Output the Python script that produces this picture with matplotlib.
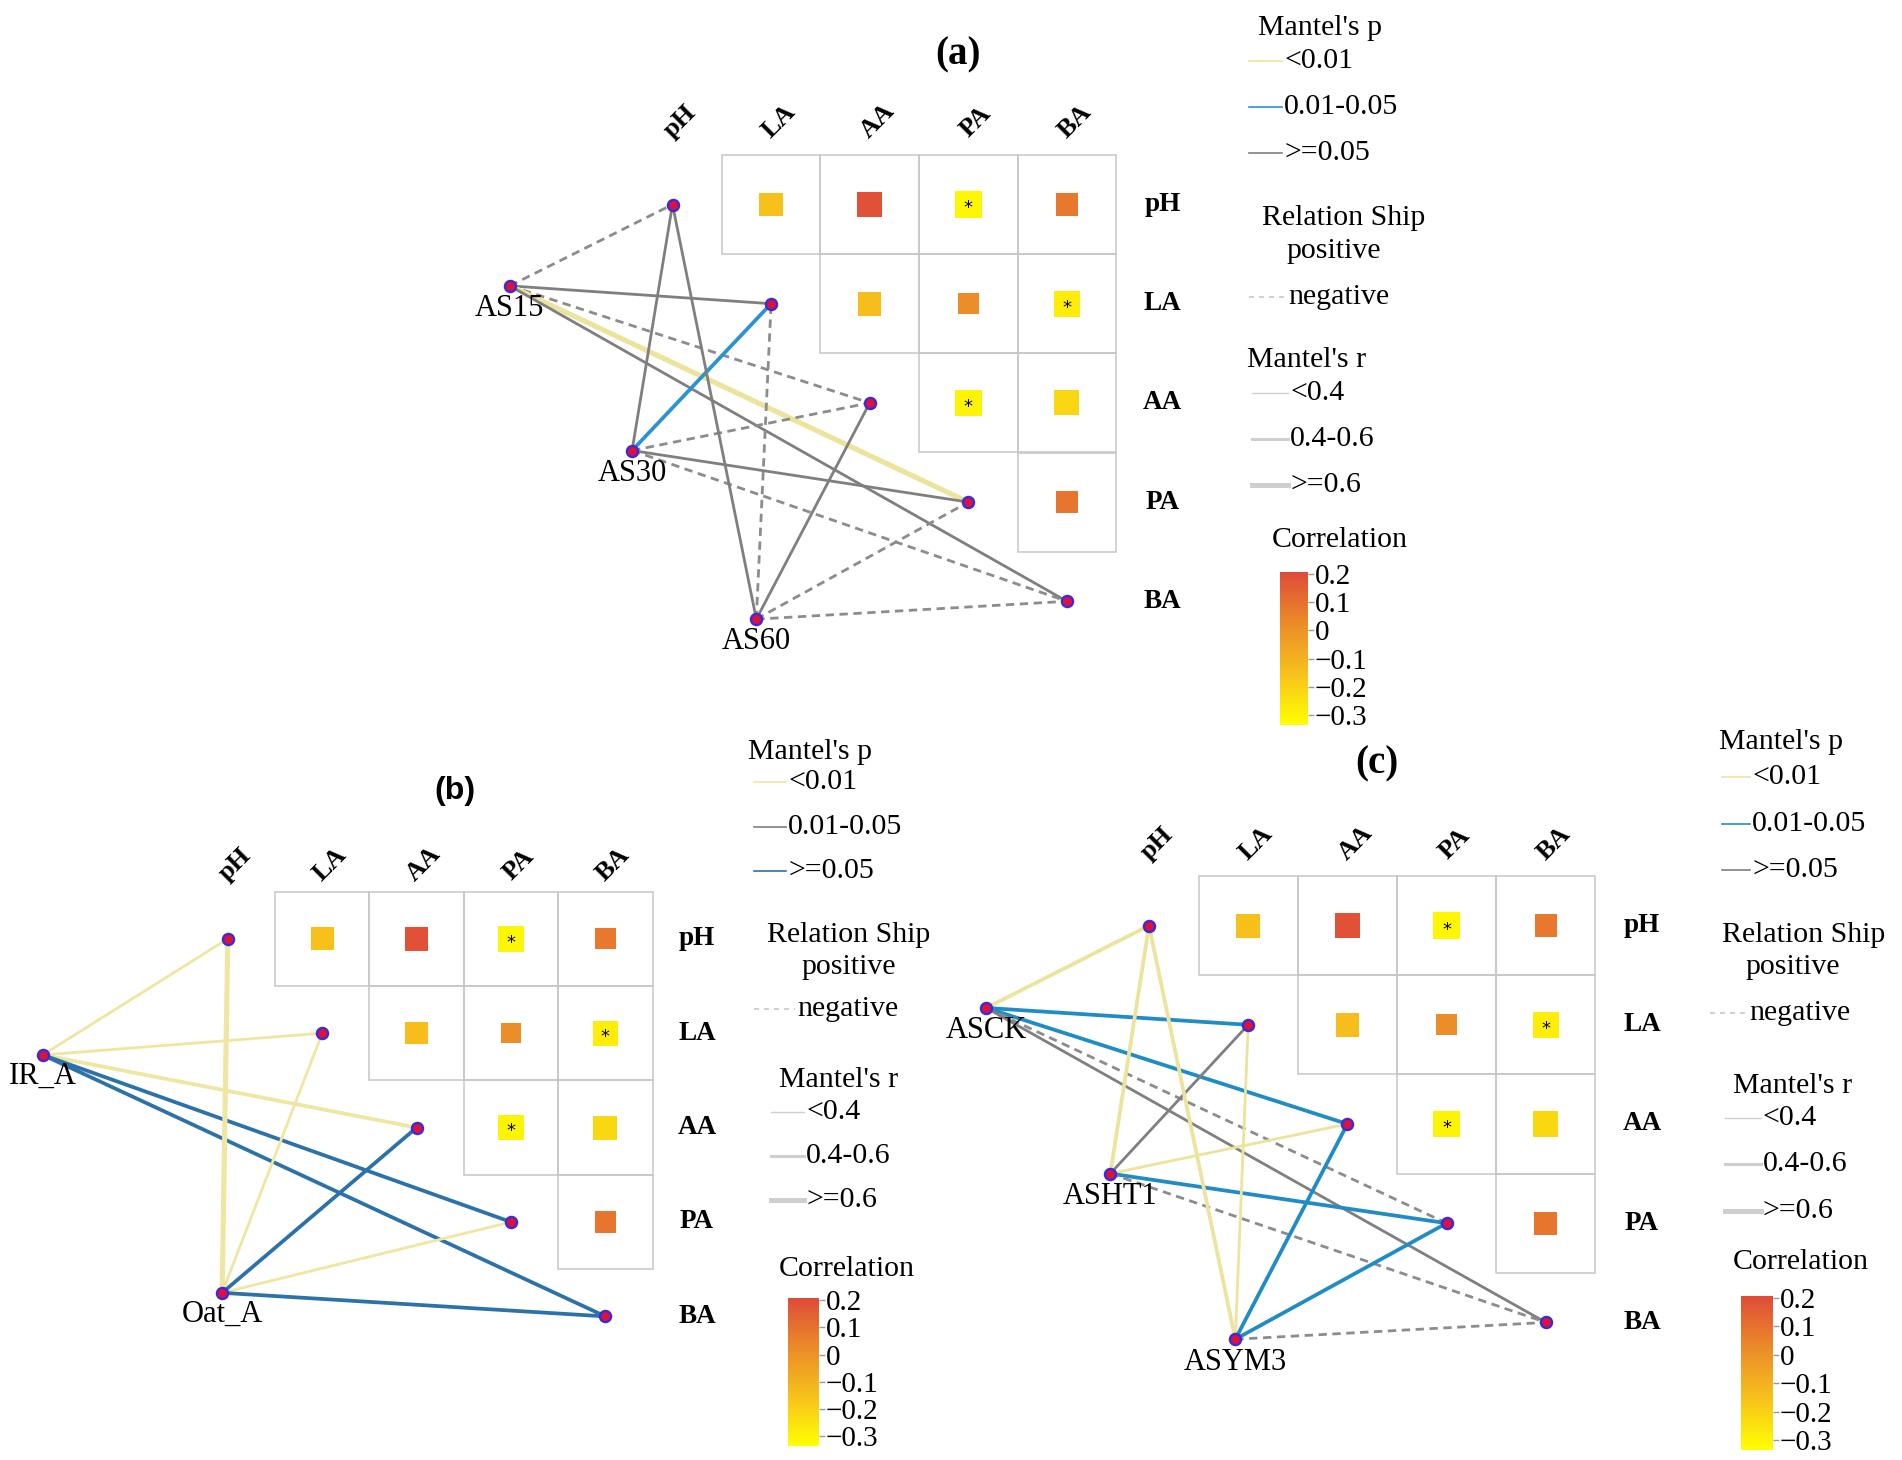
import numpy as np
import matplotlib
matplotlib.use("Agg")
import matplotlib.pyplot as plt
import matplotlib as mpl
from matplotlib.colors import LinearSegmentedColormap, Normalize
from matplotlib.lines import Line2D
from matplotlib.patches import Rectangle

W, H = 1902, 1460
SERIF = "Liberation Serif"

# environmental variables and their correlation matrix (upper triangle)
env = ["pH", "LA", "AA", "PA", "BA"]
corr = np.array([
    [np.nan, -0.15, 0.19, -0.31, 0.08],
    [np.nan, np.nan, -0.14, 0.02, -0.28],
    [np.nan, np.nan, np.nan, -0.30, -0.22],
    [np.nan, np.nan, np.nan, np.nan, 0.09],
    [np.nan, np.nan, np.nan, np.nan, np.nan],
])
corr_p = np.array([
    [1, 0.31, 0.22, 0.03, 0.55],
    [1, 1, 0.35, 0.90, 0.04],
    [1, 1, 1, 0.03, 0.12],
    [1, 1, 1, 1, 0.50],
    [1, 1, 1, 1, 1],
])

# Mantel tests, panel (a)
a_species = ["AS15", "AS30", "AS60"]
a_r = [[-0.25, 0.30, -0.20, 0.62, 0.35],
       [0.30, 0.45, -0.20, 0.32, -0.15],
       [0.28, -0.22, 0.30, -0.18, -0.12]]
a_p = [[0.32, 0.11, 0.41, 0.004, 0.09],
       [0.10, 0.03, 0.52, 0.08, 0.27],
       [0.14, 0.36, 0.12, 0.44, 0.61]]

# panel (b)
b_species = ["IR_A", "Oat_A"]
b_r = [[0.30, 0.32, 0.52, 0.45, 0.42],
       [0.68, 0.30, 0.41, 0.33, 0.44]]
b_p = [[0.005, 0.003, 0.002, 0.20, 0.15],
       [0.001, 0.008, 0.12, 0.006, 0.09]]

# panel (c)
c_species = ["ASCK", "ASHT1", "ASYM3"]
c_r = [[0.45, 0.42, 0.45, -0.20, 0.35],
       [0.50, 0.25, 0.30, 0.43, -0.22],
       [0.47, 0.30, 0.44, 0.46, -0.18]]
c_p = [[0.004, 0.03, 0.02, 0.30, 0.10],
       [0.002, 0.20, 0.006, 0.04, 0.40],
       [0.003, 0.007, 0.03, 0.02, 0.50]]

p_labels = ["<0.01", "0.01-0.05", ">=0.05"]
r_labels = ["<0.4", "0.4-0.6", ">=0.6"]
cb_ticks = [0.2, 0.1, 0, -0.1, -0.2, -0.3]

cmap = LinearSegmentedColormap.from_list(
    "corr", [(0.0, "#FFFF00"), (0.33, "#F7C21B"), (0.62, "#EC9327"),
             (0.80, "#E6722E"), (1.0, "#DF4B3A")])
norm = Normalize(-0.335, 0.207)

fig = plt.figure(figsize=(W / 100, H / 100), dpi=100)


def fx(x):
    return x / W


def fy(y):
    return 1 - y / H


def p_class(p):
    return 0 if p < 0.01 else (1 if p < 0.05 else 2)


def r_width(r):
    r = abs(r)
    return 2.0 if r < 0.4 else (2.7 if r < 0.6 else 3.7)


def panel(geom, species, xy, rr, pp, pcols, colsy):
    x0, y0, sx, sy = geom
    xmin, xmax, ymin, ymax = -2.3, 5.5, -1.3, 4.7
    ax = fig.add_axes([fx(x0 + sx * xmin), fy(y0 + sy * ymax),
                       sx * (xmax - xmin) / W, sy * (ymax - ymin) / H])
    ax.set_xlim(xmin, xmax)
    ax.set_ylim(ymax, ymin)
    ax.axis("off")
    n = len(env)
    for i in range(n):
        for j in range(i + 1, n):
            ax.add_patch(Rectangle((j - 0.5, i - 0.5), 1, 1, fill=False,
                                   ec="#C6C6C6", lw=1.1, zorder=1))
            v = corr[i, j]
            s = 0.21 + 0.2 * abs(v)
            ax.add_patch(Rectangle((j - s / 2, i - s / 2), s, s,
                                   fc=cmap(norm(v)), ec="none", zorder=1.5))
            if corr_p[i, j] < 0.05:
                ax.text(j, i + 0.04, "*", ha="center", va="center",
                        fontsize=13, color="black", zorder=1.6)
    for k, name in enumerate(env):
        ax.text(k + 0.08, colsy, name, rotation=45, ha="center", va="center",
                fontsize=19, fontfamily=SERIF, fontweight="bold")
        ax.text(4.97, k, name, ha="center", va="center", fontsize=19.5,
                fontfamily=SERIF, fontweight="bold")
    for s_i, sp in enumerate(species):
        sx_, sy_ = xy[s_i]
        for k in range(n):
            r, p = rr[s_i][k], pp[s_i][k]
            ls = (0, (3, 2)) if r < 0 else "-"
            col = "#8C8C8C" if r < 0 else pcols[p_class(p)]
            ax.plot([sx_, k], [sy_, k], color=col, lw=r_width(r),
                    ls=ls, zorder=2, solid_capstyle="butt")
        ax.plot(sx_, sy_, "o", ms=8, mfc="#E0103A", mec="#3A2BD8",
                mew=1.7, zorder=4)
        ax.text(sx_, sy_ + 0.23, sp, ha="center", va="center",
                fontsize=22, fontfamily=SERIF, zorder=5)
    for k in range(n):
        ax.plot(k, k, "o", ms=8, mfc="#E0103A", mec="#3A2BD8",
                mew=1.7, zorder=4)
    return ax


def legend(L, pcols):
    fs = 21.5
    fig.text(fx(L["pt"][0]), fy(L["pt"][1]), "Mantel's p", ha="center",
             va="center", fontsize=fs, fontfamily=SERIF)
    for k, lab in enumerate(p_labels):
        y = L["py"][k]
        fig.add_artist(Line2D([fx(L["pl"][0]), fx(L["pl"][1])], [fy(y), fy(y)],
                              color=pcols[k], lw=1.2))
        fig.text(fx(L["pl"][1] + 2), fy(y), lab, ha="left", va="center",
                 fontsize=fs, fontfamily=SERIF)
    fig.text(fx(L["rs"][0]), fy(L["rs"][1]), "Relation Ship", ha="center",
             va="center", fontsize=fs, fontfamily=SERIF)
    fig.text(fx(L["pos"][0]), fy(L["pos"][1]), "positive", ha="center",
             va="center", fontsize=fs, fontfamily=SERIF)
    y = L["neg"][2]
    fig.add_artist(Line2D([fx(L["neg"][0]), fx(L["neg"][1])], [fy(y), fy(y)],
                          color="#C8C8C8", lw=1.2, ls=(0, (3, 3))))
    fig.text(fx(L["neg"][1] + 2), fy(y), "negative", ha="left", va="center",
             fontsize=fs, fontfamily=SERIF)
    fig.text(fx(L["rt"][0]), fy(L["rt"][1]), "Mantel's r", ha="center",
             va="center", fontsize=fs, fontfamily=SERIF)
    for k, lab in enumerate(r_labels):
        y = L["ry"][k]
        fig.add_artist(Line2D([fx(L["rl"][0]), fx(L["rl"][1])], [fy(y), fy(y)],
                              color="#CFCFCF", lw=[1.0, 2.2, 3.6][k]))
        fig.text(fx(L["rl"][1] + 2), fy(y), lab, ha="left", va="center",
                 fontsize=fs, fontfamily=SERIF)
    fig.text(fx(L["ct"][0]), fy(L["ct"][1]), "Correlation", ha="center",
             va="center", fontsize=fs, fontfamily=SERIF)
    x1, x2, y1, y2 = L["cb"]
    cax = fig.add_axes([fx(x1), fy(y2), (x2 - x1) / W, (y2 - y1) / H])
    cb = mpl.colorbar.ColorbarBase(cax, cmap=cmap, norm=norm, ticks=cb_ticks)
    cb.outline.set_visible(False)
    cb.ax.set_yticklabels([("%g" % t).replace("-", "\u2212") for t in cb_ticks],
                          fontfamily=SERIF, fontsize=21)
    cb.ax.tick_params(length=4, width=1, color="#9A9A9A", pad=1)


col_a = ["#ECE39C", "#2B93D1", "#7F7F7F"]
col_b = ["#EFE6A2", "#7F7F7F", "#2C72AA"]
col_c = ["#ECE39C", "#1F8CC6", "#7F7F7F"]

panel((672.5, 204.5, 98.6, 99.2), a_species,
      [(-1.65, 0.82), (-0.41, 2.48), (0.85, 4.18)], a_r, a_p, col_a, -0.84)
panel((227.8, 938.8, 94.4, 94.4), b_species,
      [(-1.96, 1.23), (-0.06, 3.75)], b_r, b_p, col_b, -0.79)
panel((1149, 925.6, 99.2, 99.2), c_species,
      [(-1.64, 0.83), (-0.39, 2.5), (0.87, 4.17)], c_r, c_p, col_c, -0.83)

fig.text(fx(958), fy(55), "(a)", ha="center", va="center", fontsize=28,
         fontfamily=SERIF, fontweight="bold")
fig.text(fx(455), fy(791), "(b)", ha="center", va="center", fontsize=23,
         fontfamily="Liberation Sans", fontweight="bold")
fig.text(fx(1377), fy(764), "(c)", ha="center", va="center", fontsize=28,
         fontfamily=SERIF, fontweight="bold")

legend(dict(pt=(1320, 28), py=[61, 107, 153], pl=(1249, 1282),
            rs=(1344, 218), pos=(1334, 251), neg=(1249, 1286, 297),
            rt=(1307, 360), ry=[393, 439, 485], rl=(1252, 1288),
            ct=(1340, 540), cb=(1280, 1308, 572, 725)), col_a)
legend(dict(pt=(810, 752), py=[782, 827, 871], pl=(754, 786),
            rs=(849, 935), pos=(849, 967), neg=(754, 795, 1009),
            rt=(839, 1080), ry=[1112, 1156, 1200], rl=(771, 804),
            ct=(847, 1269), cb=(788, 819, 1298, 1446)), col_b)
legend(dict(pt=(1781, 742), py=[777, 824, 870], pl=(1722, 1750),
            rs=(1804, 935), pos=(1793, 967), neg=(1710, 1747, 1013),
            rt=(1793, 1086), ry=[1118, 1164, 1211], rl=(1725, 1761),
            ct=(1801, 1262), cb=(1741, 1773, 1296, 1450)), col_c)

fig.savefig("out.png", dpi=100)
